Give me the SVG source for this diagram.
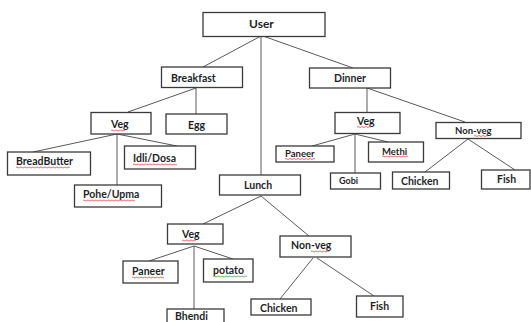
<svg xmlns="http://www.w3.org/2000/svg" width="531" height="322" viewBox="0 0 531 322">
<style>
.box{fill:#fff;stroke:#3a3a3a;stroke-width:1.3}
.t{font-family:Lato,"Open Sans","Liberation Sans",sans-serif;font-weight:bold;font-size:10.5px;fill:#1f1f2a}
.s{font-size:9.5px}
.edge{stroke:#5a5a5a;stroke-width:1;fill:none}
.sq{stroke:#e03030;stroke-width:0.7;fill:none}
.sqg{stroke:#3a9a3a;stroke-width:0.7;fill:none}
</style>
<rect width="531" height="322" fill="#fff"/>
<g id="connectors">
<line class="edge" x1="261" y1="36" x2="203" y2="67"/>
<line class="edge" x1="261" y1="36" x2="261" y2="175"/>
<line class="edge" x1="263" y1="36" x2="353" y2="68"/>
<line class="edge" x1="196" y1="88" x2="128" y2="112"/>
<line class="edge" x1="196" y1="88" x2="196" y2="114"/>
<line class="edge" x1="117" y1="134" x2="33" y2="152"/>
<line class="edge" x1="117" y1="134" x2="117" y2="185"/>
<line class="edge" x1="117" y1="134" x2="177" y2="146"/>
<line class="edge" x1="367" y1="88" x2="367" y2="112"/>
<line class="edge" x1="367" y1="88" x2="465" y2="122"/>
<line class="edge" x1="355" y1="134" x2="312" y2="146"/>
<line class="edge" x1="355" y1="134" x2="355" y2="173"/>
<line class="edge" x1="355" y1="134" x2="388" y2="142"/>
<line class="edge" x1="468" y1="139" x2="425" y2="172"/>
<line class="edge" x1="468" y1="139" x2="515" y2="170"/>
<line class="edge" x1="261" y1="196" x2="203" y2="224"/>
<line class="edge" x1="261" y1="196" x2="309" y2="236"/>
<line class="edge" x1="194" y1="246" x2="149" y2="261"/>
<line class="edge" x1="194" y1="246" x2="194" y2="309"/>
<line class="edge" x1="194" y1="246" x2="233" y2="259"/>
<line class="edge" x1="313" y1="258" x2="280" y2="299"/>
<line class="edge" x1="317" y1="258" x2="374" y2="296"/>
</g>
<g id="user"><rect class="box" x="203" y="12.5" width="122" height="24"/><text class="t" x="249" y="28" style="font-size:12px">User</text></g>
<g id="breakfast"><rect class="box" x="161.5" y="67" width="81" height="20.5"/><text class="t" x="171" y="82">Breakfast</text></g>
<g id="dinner"><rect class="box" x="309.5" y="68" width="81" height="20"/><text class="t" x="334" y="82">Dinner</text></g>
<g id="lunch"><rect class="box" x="219.5" y="175" width="81" height="20"/><text class="t" x="244" y="189">Lunch</text></g>
<g id="bf-veg"><rect class="box" x="91" y="112.5" width="60" height="21.5"/><text class="t" x="111" y="128">Veg</text><path class="sq" d="M111 130.5 q1 -1 2 0 t2 0 t2 0 t2 0 t2 0 t2 0 t2 0"/></g>
<g id="egg"><rect class="box" x="166" y="114" width="61" height="20"/><text class="t" x="188" y="129">Egg</text></g>
<g id="breadbutter"><rect class="box" x="7.5" y="152" width="83" height="23"/><text class="t" x="16" y="165">BreadButter</text><path class="sq" d="M16 167.5 q1 -1 2 0 t2 0 t2 0 t2 0 t2 0 t2 0 t2 0 t2 0 t2 0 t2 0 t2 0 t2 0 t2 0 t2 0 t2 0 t2 0 t2 0 t2 0 t2 0 t2 0 t2 0 t2 0 t2 0 t2 0 t2 0 t2 0 t2 0"/></g>
<g id="idli-dosa"><rect class="box" x="124.5" y="146" width="71" height="23"/><text class="t" x="133" y="162">Idli/Dosa</text><path class="sq" d="M133 164.5 q1 -1 2 0 t2 0 t2 0 t2 0 t2 0 t2 0 t2 0 t2 0 t2 0 t2 0 t2 0 t2 0 t2 0 t2 0 t2 0 t2 0 t2 0 t2 0 t2 0 t2 0 t2 0 t2 0"/></g>
<g id="pohe-upma"><rect class="box" x="74.5" y="185" width="87" height="22"/><text class="t" x="83" y="198">Pohe/Upma</text><path class="sq" d="M83 200.5 q1 -1 2 0 t2 0 t2 0 t2 0 t2 0 t2 0 t2 0 t2 0 t2 0 t2 0 t2 0 t2 0 t2 0 t2 0 t2 0 t2 0 t2 0 t2 0 t2 0 t2 0 t2 0 t2 0 t2 0 t2 0 t2 0 t2 0"/></g>
<g id="dn-veg"><rect class="box" x="335" y="112.5" width="65" height="21"/><text class="t" x="357" y="124.5">Veg</text><path class="sq" d="M357 127 q1 -1 2 0 t2 0 t2 0 t2 0 t2 0 t2 0 t2 0"/></g>
<g id="dn-nonveg"><rect class="box" x="436" y="122.5" width="85" height="16"/><text class="t s" x="455" y="134">Non-veg</text><path class="sq" d="M474 136 q1 -1 2 0 t2 0 t2 0 t2 0 t2 0 t2 0 t2 0"/></g>
<g id="dn-paneer"><rect class="box" x="276" y="146" width="58" height="16"/><text class="t s" x="285" y="157">Paneer</text><path class="sq" d="M285 159 q1 -1 2 0 t2 0 t2 0 t2 0 t2 0 t2 0 t2 0 t2 0 t2 0 t2 0 t2 0 t2 0 t2 0 t2 0 t2 0"/></g>
<g id="methi"><rect class="box" x="368.5" y="142" width="55" height="20"/><text class="t s" x="382" y="154.5">Methi</text><path class="sq" d="M382 156.5 q1 -1 2 0 t2 0 t2 0 t2 0 t2 0 t2 0 t2 0 t2 0 t2 0 t2 0 t2 0 t2 0 t2 0"/></g>
<g id="gobi"><rect class="box" x="330.5" y="173" width="50" height="16"/><text class="t" x="339" y="184" style="font-size:9px">Gobi</text></g>
<g id="dn-chicken"><rect class="box" x="392.5" y="172" width="57" height="17"/><text class="t" x="401" y="185">Chicken</text></g>
<g id="dn-fish"><rect class="box" x="481.5" y="170" width="48.5" height="19"/><text class="t" x="497" y="183">Fish</text></g>
<g id="ln-veg"><rect class="box" x="167.5" y="224" width="55.5" height="20"/><text class="t" x="182" y="238">Veg</text><path class="sq" d="M182 240.5 q1 -1 2 0 t2 0 t2 0 t2 0 t2 0 t2 0 t2 0"/></g>
<g id="ln-paneer"><rect class="box" x="123" y="261" width="55" height="22"/><text class="t" x="132" y="275">Paneer</text><path class="sq" d="M132 277.5 q1 -1 2 0 t2 0 t2 0 t2 0 t2 0 t2 0 t2 0 t2 0 t2 0 t2 0 t2 0 t2 0 t2 0 t2 0 t2 0 t2 0"/></g>
<g id="potato"><rect class="box" x="203.5" y="259" width="49.5" height="23"/><text class="t" x="213" y="274">potato</text><path class="sqg" d="M213 276.5 q1 -1 2 0 t2 0 t2 0 t2 0 t2 0 t2 0 t2 0 t2 0 t2 0 t2 0 t2 0 t2 0 t2 0 t2 0 t2 0 t2 0 t2 0"/></g>
<g id="bhendi"><rect class="box" x="167" y="309" width="57" height="20"/><text class="t" x="175" y="319.5">Bhendi</text></g>
<g id="ln-nonveg"><rect class="box" x="280" y="236" width="71" height="21"/><text class="t" x="291" y="249">Non-veg</text><path class="sq" d="M311 251.5 q1 -1 2 0 t2 0 t2 0 t2 0 t2 0 t2 0 t2 0 t2 0 t2 0"/></g>
<g id="ln-chicken"><rect class="box" x="251" y="299" width="60" height="16"/><text class="t" x="260" y="312">Chicken</text></g>
<g id="ln-fish"><rect class="box" x="356.5" y="296" width="46.5" height="21"/><text class="t" x="370" y="310">Fish</text></g>
</svg>
